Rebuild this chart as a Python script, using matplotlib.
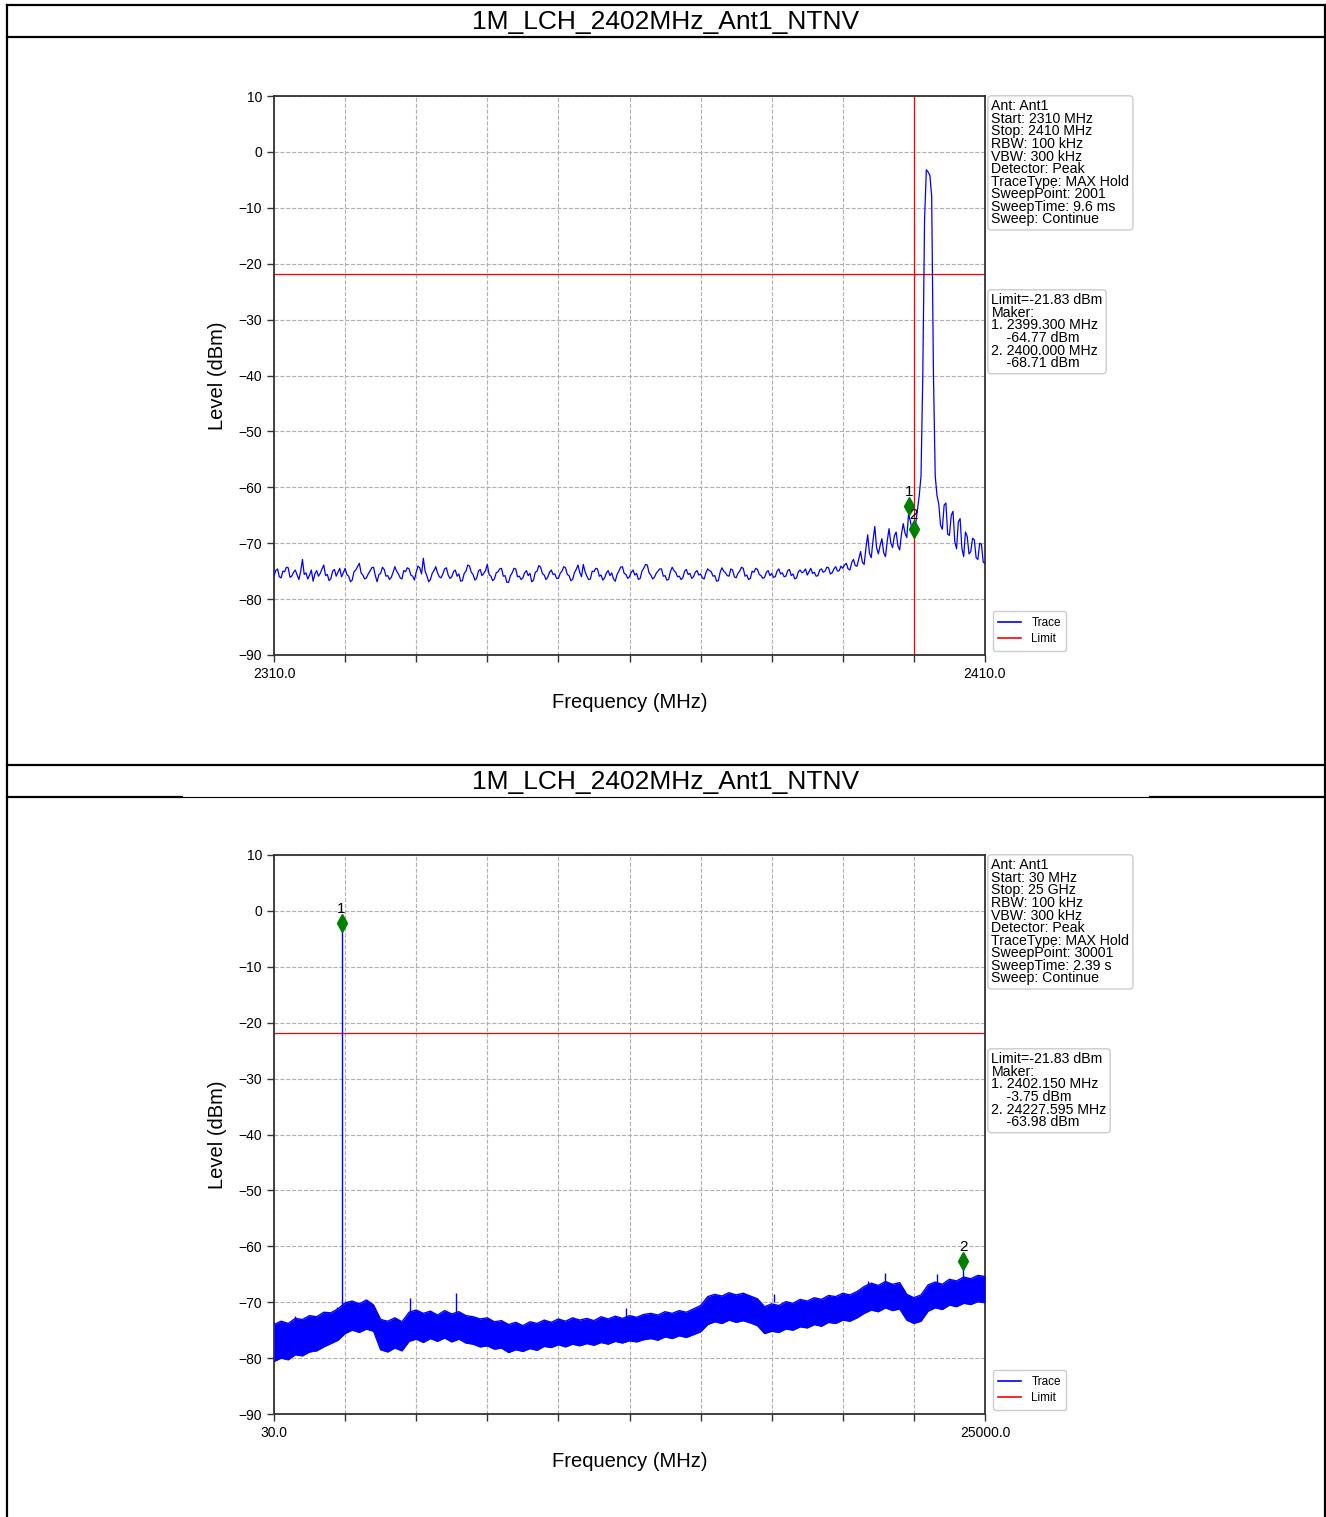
import numpy as np
import matplotlib.pyplot as plt
from matplotlib.lines import Line2D

plt.rcParams['font.family'] = ['Liberation Sans', 'DejaVu Sans']

title = "1M_LCH_2402MHz_Ant1_NTNV"
limit = -21.83

# ---- panel 1: 2310-2410 MHz, level every 0.25 MHz
start1, stop1 = 2310.0, 2410.0
level1 = [
    -75.8, -74.9, -74.6, -76.0, -76.2, -75.0, -75.1, -74.3, -74.4, -76.1, -75.9, -75.2, -74.8, -75.7, -76.5, -75.1, -72.9, -75.6, -75.3, -76.4,
    -75.7, -74.8, -76.8, -75.5, -74.9, -75.9, -75.4, -74.6, -73.9, -75.8, -75.6, -76.7, -76.3, -75.0, -74.7, -75.9, -75.2, -74.5, -76.0, -75.3,
    -74.5, -75.6, -75.9, -76.9, -76.6, -75.1, -74.8, -74.2, -73.6, -75.3, -75.7, -76.4, -76.2, -75.5, -75.0, -74.4, -74.3, -75.8, -76.9, -75.6,
    -75.4, -74.3, -74.7, -75.9, -75.8, -76.5, -76.1, -75.2, -74.2, -75.0, -75.5, -76.2, -76.4, -74.9, -75.1, -74.4, -74.6, -75.7, -75.9, -76.6,
    -75.2, -74.1, -74.4, -75.5, -72.7, -75.0, -75.8, -76.9, -76.5, -75.4, -74.9, -74.2, -75.3, -76.0, -76.2, -75.5, -74.6, -74.4, -75.7, -76.3,
    -76.0, -75.1, -74.8, -75.9, -75.5, -76.8, -76.7, -75.4, -75.0, -73.9, -74.1, -75.2, -75.6, -76.6, -76.3, -75.0, -74.7, -75.8, -75.4, -74.9,
    -73.8, -75.6, -75.9, -76.7, -76.4, -75.3, -75.1, -74.6, -74.5, -75.9, -75.8, -77.0, -77.0, -75.8, -75.3, -74.5, -74.6, -76.0, -75.9, -76.5,
    -76.2, -75.3, -74.9, -75.8, -75.4, -76.9, -76.6, -75.2, -75.0, -74.0, -74.3, -75.4, -75.7, -76.5, -76.1, -75.2, -74.8, -75.6, -75.5, -76.3,
    -76.3, -75.4, -75.0, -74.2, -74.4, -75.6, -75.8, -76.7, -76.5, -75.3, -74.7, -73.9, -75.2, -76.0, -73.8, -75.1, -75.9, -76.5, -76.4, -75.0,
    -75.1, -74.5, -74.6, -75.9, -75.7, -76.6, -76.2, -75.3, -74.9, -75.8, -75.3, -76.4, -76.8, -75.6, -75.0, -74.3, -74.2, -75.4, -75.6, -76.3,
    -76.0, -75.2, -74.8, -75.7, -75.4, -76.5, -76.3, -75.0, -74.5, -73.8, -73.9, -75.3, -75.7, -76.4, -76.1, -75.4, -75.0, -74.6, -74.6, -75.9,
    -75.8, -76.6, -76.5, -75.1, -74.3, -74.9, -75.2, -76.0, -75.9, -76.5, -76.2, -75.0, -74.7, -75.6, -75.4, -76.3, -76.0, -75.2, -74.9, -75.7,
    -75.5, -76.2, -76.4, -75.3, -74.6, -74.9, -75.1, -75.9, -75.8, -76.8, -76.7, -75.2, -74.4, -75.0, -75.3, -75.8, -75.9, -74.6, -74.8, -76.0,
    -76.2, -75.4, -75.0, -74.3, -74.5, -75.9, -75.7, -76.5, -76.3, -75.0, -75.2, -74.5, -74.7, -75.6, -75.8, -76.3, -76.1, -75.2, -74.9, -75.8,
    -75.4, -76.1, -76.0, -75.0, -74.6, -75.5, -75.3, -76.0, -75.9, -74.9, -74.7, -75.8, -75.5, -76.4, -76.2, -75.1, -74.8, -75.3, -75.1, -74.6,
    -75.7, -75.1, -74.5, -75.4, -75.2, -75.9, -75.8, -74.8, -74.6, -75.2, -75.0, -74.3, -74.4, -75.5, -75.3, -74.6, -74.2, -75.0, -74.9, -74.1,
    -74.5, -73.9, -73.6, -74.6, -74.8, -73.5, -72.9, -74.0, -74.1, -72.8, -71.5, -73.4, -73.8, -70.9, -68.5, -71.8, -72.6, -69.5, -67.0, -70.8,
    -71.9, -70.4, -69.2, -71.7, -72.4, -69.6, -67.4, -69.9, -70.8, -68.7, -68.0, -70.5, -71.2, -68.4, -66.5, -68.2, -69.0, -64.8, -66.0, -67.8,
    -68.7, -66.5, -64.0, -61.5, -58.0, -40.0, -12.0, -3.2, -3.6, -4.2, -8.0, -40.0, -58.0, -61.5, -63.0, -66.8, -67.5, -63.2, -62.8, -68.4,
    -68.6, -65.0, -64.3, -69.7, -71.0, -66.2, -65.6, -70.9, -72.4, -68.0, -68.8, -71.9, -71.5, -69.1, -69.4, -72.6, -72.9, -70.0, -70.2, -73.4,
    -73.6,
]
band_edge1 = 2400.0
marker_f1 = [2399.3, 2400.0]
marker_l1 = [-63.3, -67.4]
info1 = ("Ant: Ant1\nStart: 2310 MHz\nStop: 2410 MHz\nRBW: 100 kHz\nVBW: 300 kHz\n"
         "Detector: Peak\nTraceType: MAX Hold\nSweepPoint: 2001\nSweepTime: 9.6 ms\n"
         "Sweep: Continue")
mark1 = ("Limit=-21.83 dBm\nMaker:\n1. 2399.300 MHz\n    -64.77 dBm\n"
         "2. 2400.000 MHz\n    -68.71 dBm")

# ---- panel 2: 30-25000 MHz, band envelope (top / bottom)
start2, stop2 = 30.0, 25000.0
band_top = [
    -74.0, -73.4, -73.8, -72.9, -73.1, -72.4, -72.6, -71.8, -71.9, -71.2,
    -70.1, -69.8, -70.3, -69.6, -70.5, -73.1, -73.4, -72.8, -73.5, -71.8,
    -71.4, -72.0, -71.6, -72.3, -71.5, -72.1, -71.7, -72.4, -72.6, -73.0,
    -72.8, -73.5, -73.3, -74.0, -73.6, -74.2, -73.5, -73.8, -73.2, -73.6,
    -73.0, -73.4, -72.8, -73.2, -72.9, -73.3, -72.6, -73.0, -72.5, -72.9,
    -72.4, -72.7, -72.2, -72.0, -72.3, -71.7, -72.0, -71.5, -71.8, -71.2,
    -70.6, -69.0, -68.6, -68.9, -68.3, -68.7, -68.4, -68.9, -69.4, -70.8,
    -70.3, -70.6, -69.9, -70.2, -69.5, -69.8, -69.2, -69.5, -68.8, -69.0,
    -68.4, -68.7, -68.1, -67.2, -66.6, -67.0, -66.3, -66.8, -66.5, -68.6,
    -69.2, -68.7, -66.9, -66.4, -66.8, -65.9, -66.2, -65.5, -65.8, -65.2,
    -65.4,
]
band_bottom = [
    -80.6, -80.0, -80.3, -79.4, -79.6, -78.9, -78.7, -78.0, -77.4, -76.8,
    -75.6, -75.0, -75.4, -74.8, -75.2, -78.5, -78.9, -78.2, -78.7, -77.0,
    -76.6, -77.2, -76.5, -77.0, -76.4, -77.1, -76.6, -77.3, -77.5, -78.0,
    -77.8, -78.4, -78.2, -79.0, -78.5, -78.8, -78.3, -78.6, -77.9, -78.1,
    -77.6, -78.0, -77.5, -77.8, -77.4, -77.7, -77.2, -77.5, -77.0, -77.3,
    -76.9, -77.1, -76.7, -76.5, -76.8, -76.2, -76.5, -76.0, -76.3, -75.8,
    -75.3, -74.0, -73.5, -73.8, -73.2, -73.6, -73.3, -73.7, -74.2, -75.6,
    -75.2, -75.4, -74.8, -75.0, -74.4, -74.6, -74.0, -74.3, -73.6, -73.8,
    -73.2, -73.4, -72.8, -72.0, -71.4, -71.7, -71.0, -71.5, -71.2, -73.2,
    -73.8, -73.4, -71.6, -71.0, -71.3, -70.5, -70.8, -70.2, -70.4, -69.9,
    -70.1,
]
spike_f = [2402.15, 780, 2250, 3250, 4806, 6420, 12400, 17600, 20900, 21500, 23300, 24227.6]
spike_top = [-2.2, -72.4, -70.9, -69.8, -69.2, -68.4, -71.0, -68.6, -66.2, -64.8, -65.0, -62.6]
spike_base = [-71.0, -75.0, -73.0, -72.0, -73.0, -72.0, -73.0, -70.0, -69.0, -67.0, -67.0, -67.0]
marker_f2 = [2402.15, 24227.6]
marker_l2 = [-2.2, -62.6]
info2 = ("Ant: Ant1\nStart: 30 MHz\nStop: 25 GHz\nRBW: 100 kHz\nVBW: 300 kHz\n"
         "Detector: Peak\nTraceType: MAX Hold\nSweepPoint: 30001\nSweepTime: 2.39 s\n"
         "Sweep: Continue")
mark2 = ("Limit=-21.83 dBm\nMaker:\n1. 2402.150 MHz\n    -3.75 dBm\n"
         "2. 24227.595 MHz\n    -63.98 dBm")

W, H = 1326, 1517
fig = plt.figure(figsize=(W / 100, H / 100), dpi=100)


def px_line(x0, y0, x1, y1, lw=1.6):
    fig.add_artist(Line2D([x0 / W, x1 / W], [1 - y0 / H, 1 - y1 / H],
                          transform=fig.transFigure, color='black', lw=lw))


# table-like frame around both panels
px_line(7, 5, 1325, 5)
px_line(7, 37, 1325, 37)
px_line(7, 765, 1325, 765)
px_line(7, 797, 182, 797)
px_line(182, 797, 1150, 797, lw=0.8)
px_line(1150, 797, 1325, 797)
px_line(7, 5, 7, 1517)
px_line(1325, 5, 1325, 1517)
for ty in (22, 782):
    fig.text(666 / W, 1 - ty / H, title, ha='center', va='center', fontsize=19)


def setup(ax, x0, x1, info, mark):
    ax.set_xlim(x0, x1)
    ax.set_ylim(-90, 10)
    xt = np.linspace(x0, x1, 11)
    ax.set_xticks(xt)
    ax.set_xticklabels([f"{x0:.1f}"] + [""] * 9 + [f"{x1:.1f}"])
    ax.set_yticks(np.arange(-90, 11, 10))
    ax.tick_params(labelsize=10, color='#333333', width=1.0, length=5)
    ax.grid(True, linestyle='--', color='#b0b0b0', lw=0.8)
    for s in ax.spines.values():
        s.set_color('#333333')
        s.set_linewidth(1.3)
    ax.set_xlabel("Frequency (MHz)", fontsize=14.5, labelpad=9)
    ax.set_ylabel("Level (dBm)", fontsize=14.5, labelpad=8)
    ax.axhline(limit, color='red', lw=0.9, label='Limit')
    box = dict(boxstyle='round,pad=0.25', fc='white', ec='#cccccc', lw=1)
    ax.text(1.009, 0.994, info, transform=ax.transAxes, va='top', ha='left',
            fontsize=10.2, linespacing=0.87, bbox=box)
    ax.text(1.009, 0.647, mark, transform=ax.transAxes, va='top', ha='left',
            fontsize=10.2, linespacing=0.87, bbox=box)


ax1 = fig.add_axes([274 / W, 1 - 655 / H, 711 / W, 559 / H])
f1 = np.linspace(start1, stop1, len(level1))
ax1.plot(f1, level1, color='blue', lw=0.9, label='Trace', zorder=3)
ax1.axvline(band_edge1, color='red', lw=0.9, zorder=2)
setup(ax1, start1, stop1, info1, mark1)

ax2 = fig.add_axes([274 / W, 1 - 1414 / H, 711 / W, 559 / H])
f2 = np.linspace(start2, stop2, len(band_top))
ax2.fill_between(f2, band_bottom, band_top, color='blue', lw=0, zorder=3)
ax2.plot(f2, band_top, color='blue', lw=1.0, label='Trace', zorder=3)
ax2.plot(f2, band_bottom, color='blue', lw=1.0, zorder=3)
ax2.vlines(spike_f, spike_base, spike_top, color='blue', lw=1.0, zorder=3)
setup(ax2, start2, stop2, info2, mark2)

for ax, mf, ml in ((ax1, marker_f1, marker_l1), (ax2, marker_f2, marker_l2)):
    ax.plot(mf, ml, 'd', color='green', ms=9, zorder=5)
    for i, (x, y) in enumerate(zip(mf, ml)):
        ax.annotate(str(i + 1), (x, y), xytext=(0, 10), textcoords='offset points',
                    ha='center', va='center', fontsize=11, zorder=6)
    h = [Line2D([], [], color='blue', lw=1.2), Line2D([], [], color='red', lw=1.2)]
    ax.legend(h, ['Trace', 'Limit'], loc='lower left', bbox_to_anchor=(1.003, -0.003),
              fontsize=8.5, handlelength=1.9, borderpad=0.45, labelspacing=0.4,
              handletextpad=0.9, framealpha=1, edgecolor='#cccccc')

fig.savefig('out.png', dpi=100)
